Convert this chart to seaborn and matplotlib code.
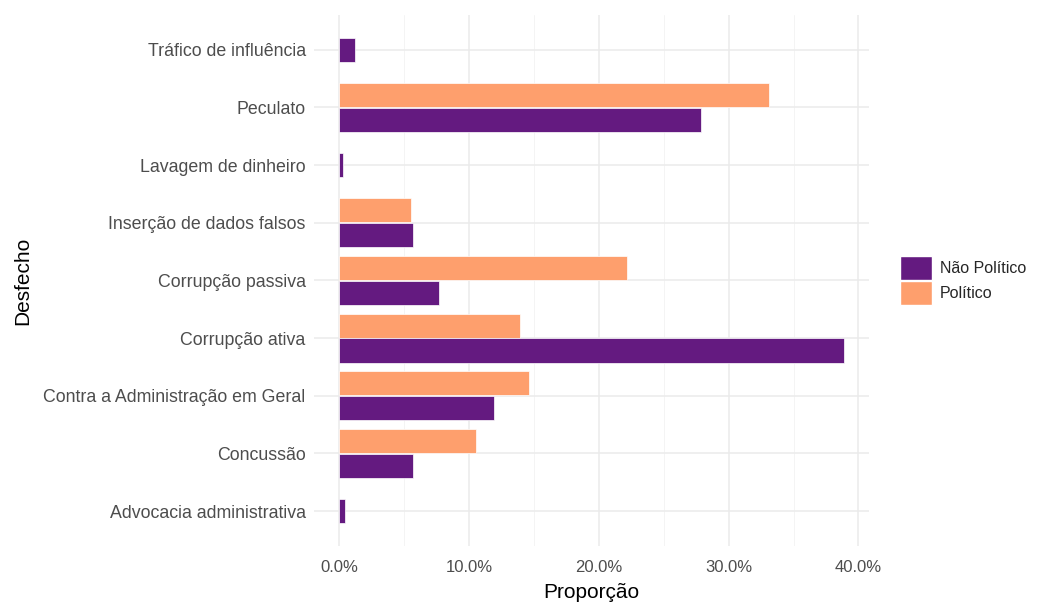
import matplotlib
matplotlib.use("Agg")
import matplotlib.pyplot as plt
import matplotlib.ticker as mticker
from matplotlib.patches import Patch
import numpy as np
import seaborn as sns

# categorias de baixo para cima
categorias = ['Advocacia administrativa', 'Concussão', 'Contra a Administração em Geral',
              'Corrupção ativa', 'Corrupção passiva', 'Inserção de dados falsos',
              'Lavagem de dinheiro', 'Peculato', 'Tráfico de influência']
nao_politico = [0.004, 0.057, 0.119, 0.389, 0.077, 0.057, 0.003, 0.279, 0.012]
politico = [np.nan, 0.105, 0.146, 0.139, 0.222, 0.055, np.nan, 0.331, np.nan]

cor_np = '#641A80'
cor_p = '#FE9F6D'

sns.set_theme(style='whitegrid')
plt.rcParams['font.family'] = ['Liberation Sans', 'DejaVu Sans']

fig, ax = plt.subplots(figsize=(10.4, 6.05), dpi=100)
fig.subplots_adjust(left=0.302, right=0.836, top=0.975, bottom=0.098)

h = 0.42
y = np.arange(len(categorias))
for i in y:
    if np.isnan(politico[i]):
        ax.barh(i, nao_politico[i], height=h, color=cor_np, edgecolor='white', linewidth=0.5)
    else:
        ax.barh(i + h / 2 + 0.005, politico[i], height=h, color=cor_p, edgecolor='white', linewidth=0.5)
        ax.barh(i - h / 2 - 0.005, nao_politico[i], height=h, color=cor_np, edgecolor='white', linewidth=0.5)

xmax = max(nao_politico)
ax.set_xlim(-0.05 * xmax, xmax * 1.05)
ax.set_ylim(-0.6, len(categorias) - 0.4)
ax.set_yticks(y)
ax.set_yticklabels(categorias)
ax.xaxis.set_major_locator(mticker.MultipleLocator(0.1))
ax.xaxis.set_minor_locator(mticker.MultipleLocator(0.05))
ax.xaxis.set_major_formatter(mticker.FuncFormatter(lambda v, p: f'{v*100:.1f}%'))

ax.set_facecolor('white')
for s in ax.spines.values():
    s.set_visible(False)
ax.grid(True, which='major', color='#EBEBEB', linewidth=1.1)
ax.grid(True, which='minor', axis='x', color='#F2F2F2', linewidth=0.6)
ax.set_axisbelow(True)
ax.tick_params(axis='both', which='both', length=0, colors='#4D4D4D', labelsize=12)
ax.tick_params(axis='y', labelsize=12.8, pad=6)
ax.tick_params(axis='x', pad=10)

ax.set_xlabel('Proporção', fontsize=15, color='black', labelpad=6)
ax.set_ylabel('Desfecho', fontsize=15, color='black', labelpad=8)

handles = [Patch(facecolor=cor_np, edgecolor='white', label='Não Político'),
           Patch(facecolor=cor_p, edgecolor='white', label='Político')]
leg = ax.legend(handles=handles, loc='center left', bbox_to_anchor=(1.03, 0.5), frameon=False,
                fontsize=11.5, handlelength=1.95, handleheight=1.95, handletextpad=0.5, labelspacing=0.05)

plt.savefig('out.png', dpi=100)
